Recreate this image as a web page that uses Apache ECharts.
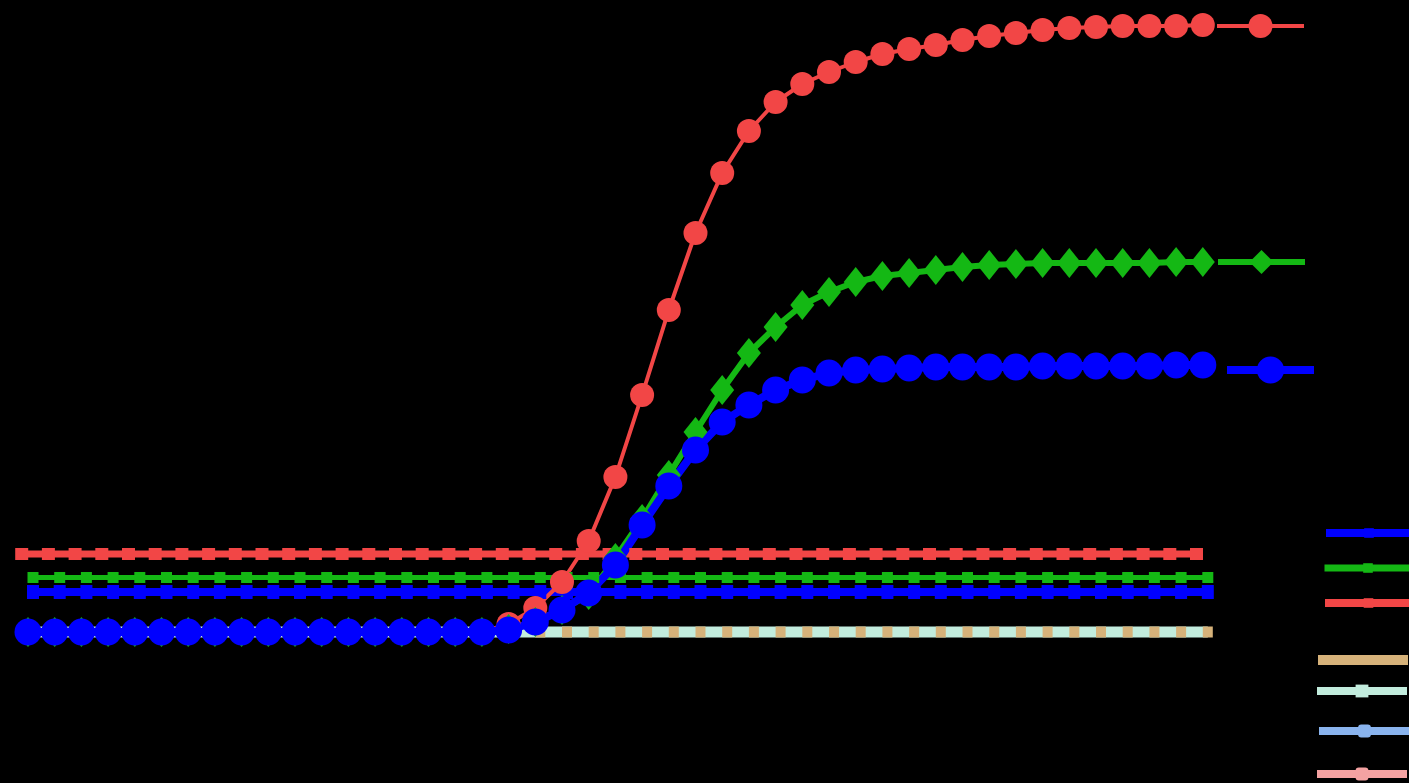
<!DOCTYPE html>
<html>
<head>
<meta charset="utf-8">
<script src="https://cdn.jsdelivr.net/npm/echarts@6/dist/echarts.min.js"></script>
<style>
html,body{margin:0;padding:0;background:#000;}
#c{width:1409px;height:783px;}
</style>
</head>
<body>
<div id="c"></div>
<script>
// ---- data ----
const cycles = [1,2,3,4,5,6,7,8,9,10,11,12,13,14,15,16,17,18,19,20,21,22,23,24,25,26,27,28,29,30,31,32,33,34,35,36,37,38,39,40,41,42,43,44,45];

const redCurve = [0,0,0,0,0,0,0,0,0,0,0,0,0,0,0,0,0,0,
  0.08,0.24,0.50,0.91,1.55,2.37,3.22,3.99,4.59,5.01,5.30,5.48,5.60,5.70,5.78,5.83,5.87,5.92,5.96,5.99,6.02,6.04,6.05,6.06,6.06,6.06,6.07];
const greenCurve = [0,0,0,0,0,0,0,0,0,0,0,0,0,0,0,0,0,0,
  0.03,0.10,0.22,0.37,0.74,1.13,1.57,2.00,2.42,2.79,3.05,3.27,3.40,3.50,3.56,3.59,3.62,3.65,3.67,3.68,3.69,3.69,3.69,3.69,3.69,3.70,3.70];
const blueCurve = [0,0,0,0,0,0,0,0,0,0,0,0,0,0,0,0,0,0,
  0.02,0.10,0.22,0.39,0.67,1.07,1.46,1.82,2.10,2.27,2.42,2.52,2.59,2.62,2.63,2.64,2.65,2.65,2.65,2.65,2.66,2.66,2.66,2.66,2.66,2.67,2.67];

const redThreshold = 0.78;
const greenThreshold = 0.545;
const blueThreshold = 0.40;

const ntcBaseline = [0,0,0,0,0,0,0,0,0,0,0,0,0,0,0,0,0,0,0,0,0,0,0,0,0,0,0,0,0,0,0,0,0,0,0,0,0,0,0,0,0,0,0,0,0];

const names = ['Sample 1','Sample 2','Sample 3','Threshold 1','Threshold 2','Threshold 3','NTC 1','NTC 2','NTC 3','NTC 4'];

// ---- build ----
const pairs = (vals) => cycles.map((c, i) => [c, vals[i]]);
const flat = (v) => cycles.map(c => [c, v]);

const C = {
  red: '#f24646', green: '#14b814', blue: '#0000ff',
  tan: '#d6b27a', cyan: '#c2ecdd', lblue: '#8ab4ee', pink: '#f4a2a2'
};

const gridLefts = [14.65, 8.35, 19.65];
const grid = gridLefts.map(l => ({left: l, top: 2, width: 1214.85, height: 780, containLabel: false}));
const xAxis = gridLefts.map((_, i) => ({type: 'value', gridIndex: i, min: 0.5, max: 46, show: false}));
const yAxis = gridLefts.map((_, i) => ({type: 'value', gridIndex: i, min: -1.5, max: 6.3, show: false}));

function line(name, gi, data, color, width, symbol, size, extra) {
  return Object.assign({
    type: 'line', name, xAxisIndex: gi, yAxisIndex: gi, data,
    symbol, symbolSize: size, showSymbol: true, clip: false,
    silent: true, animation: false,
    lineStyle: {color, width},
    itemStyle: {color},
    emphasis: {disabled: true}
  }, extra || {});
}

const series = [
  line(names[8], 2, pairs(ntcBaseline), C.lblue, 8, 'roundRect', [14, 12], {showSymbol: false}),
  line(names[9], 2, pairs(ntcBaseline), C.pink, 8, 'roundRect', [14, 12], {showSymbol: false}),
  line(names[7], 2, pairs(ntcBaseline), C.cyan, 11, 'rect', 13, {showSymbol: false}),
  line(names[6], 2, pairs(ntcBaseline), C.tan, 10, 'rect', [10, 11], {lineStyle: {color: C.tan, width: 10, opacity: 0}}),
  line(names[5], 1, flat(redThreshold), C.red, 7, 'rect', [13, 12]),
  line(names[4], 2, flat(greenThreshold), C.green, 5, 'rect', [11, 11]),
  line(names[3], 2, flat(blueThreshold), C.blue, 8, 'rect', [12, 14]),
  line(names[0], 0, pairs(redCurve), C.red, 4, 'circle', 24),
  line(names[1], 0, pairs(greenCurve), C.green, 6, 'diamond', [24, 30]),
  line(names[2], 0, pairs(blueCurve), C.blue, 8, 'circle', 27)
];

function leg(name, left, centerY, w, h, lw, color) {
  return {
    data: [name], left, top: centerY - h / 2, itemWidth: w, itemHeight: h,
    padding: 0, itemGap: 0, selectedMode: false, formatter: () => '',
    textStyle: {fontSize: 1, color: '#000'},
    lineStyle: {width: lw, color, opacity: 1}
  };
}

const legend = [
  leg(names[0], 1215, 26, 87, 30, 4, C.red),
  leg(names[1], 1215, 262, 87, 30, 6, C.green),
  leg(names[2], 1223, 370, 87, 34, 8, C.blue),
  leg(names[3], 1322, 533, 86, 12, 8, C.blue),
  leg(names[4], 1321, 568, 87, 12, 7, C.green),
  leg(names[5], 1321, 603, 87, 12, 8, C.red),
  leg(names[6], 1313, 660, 90, 12, 10, C.tan),
  leg(names[7], 1313, 691, 90, 16, 8, C.cyan),
  leg(names[8], 1315, 731, 91, 16, 8, C.lblue),
  leg(names[9], 1313, 774, 90, 16, 8, C.pink)
];

const chart = echarts.init(document.getElementById('c'), null, {renderer: 'canvas'});
chart.setOption({
  backgroundColor: '#000',
  animation: false,
  grid, xAxis, yAxis, legend, series
});
</script>
</body>
</html>
